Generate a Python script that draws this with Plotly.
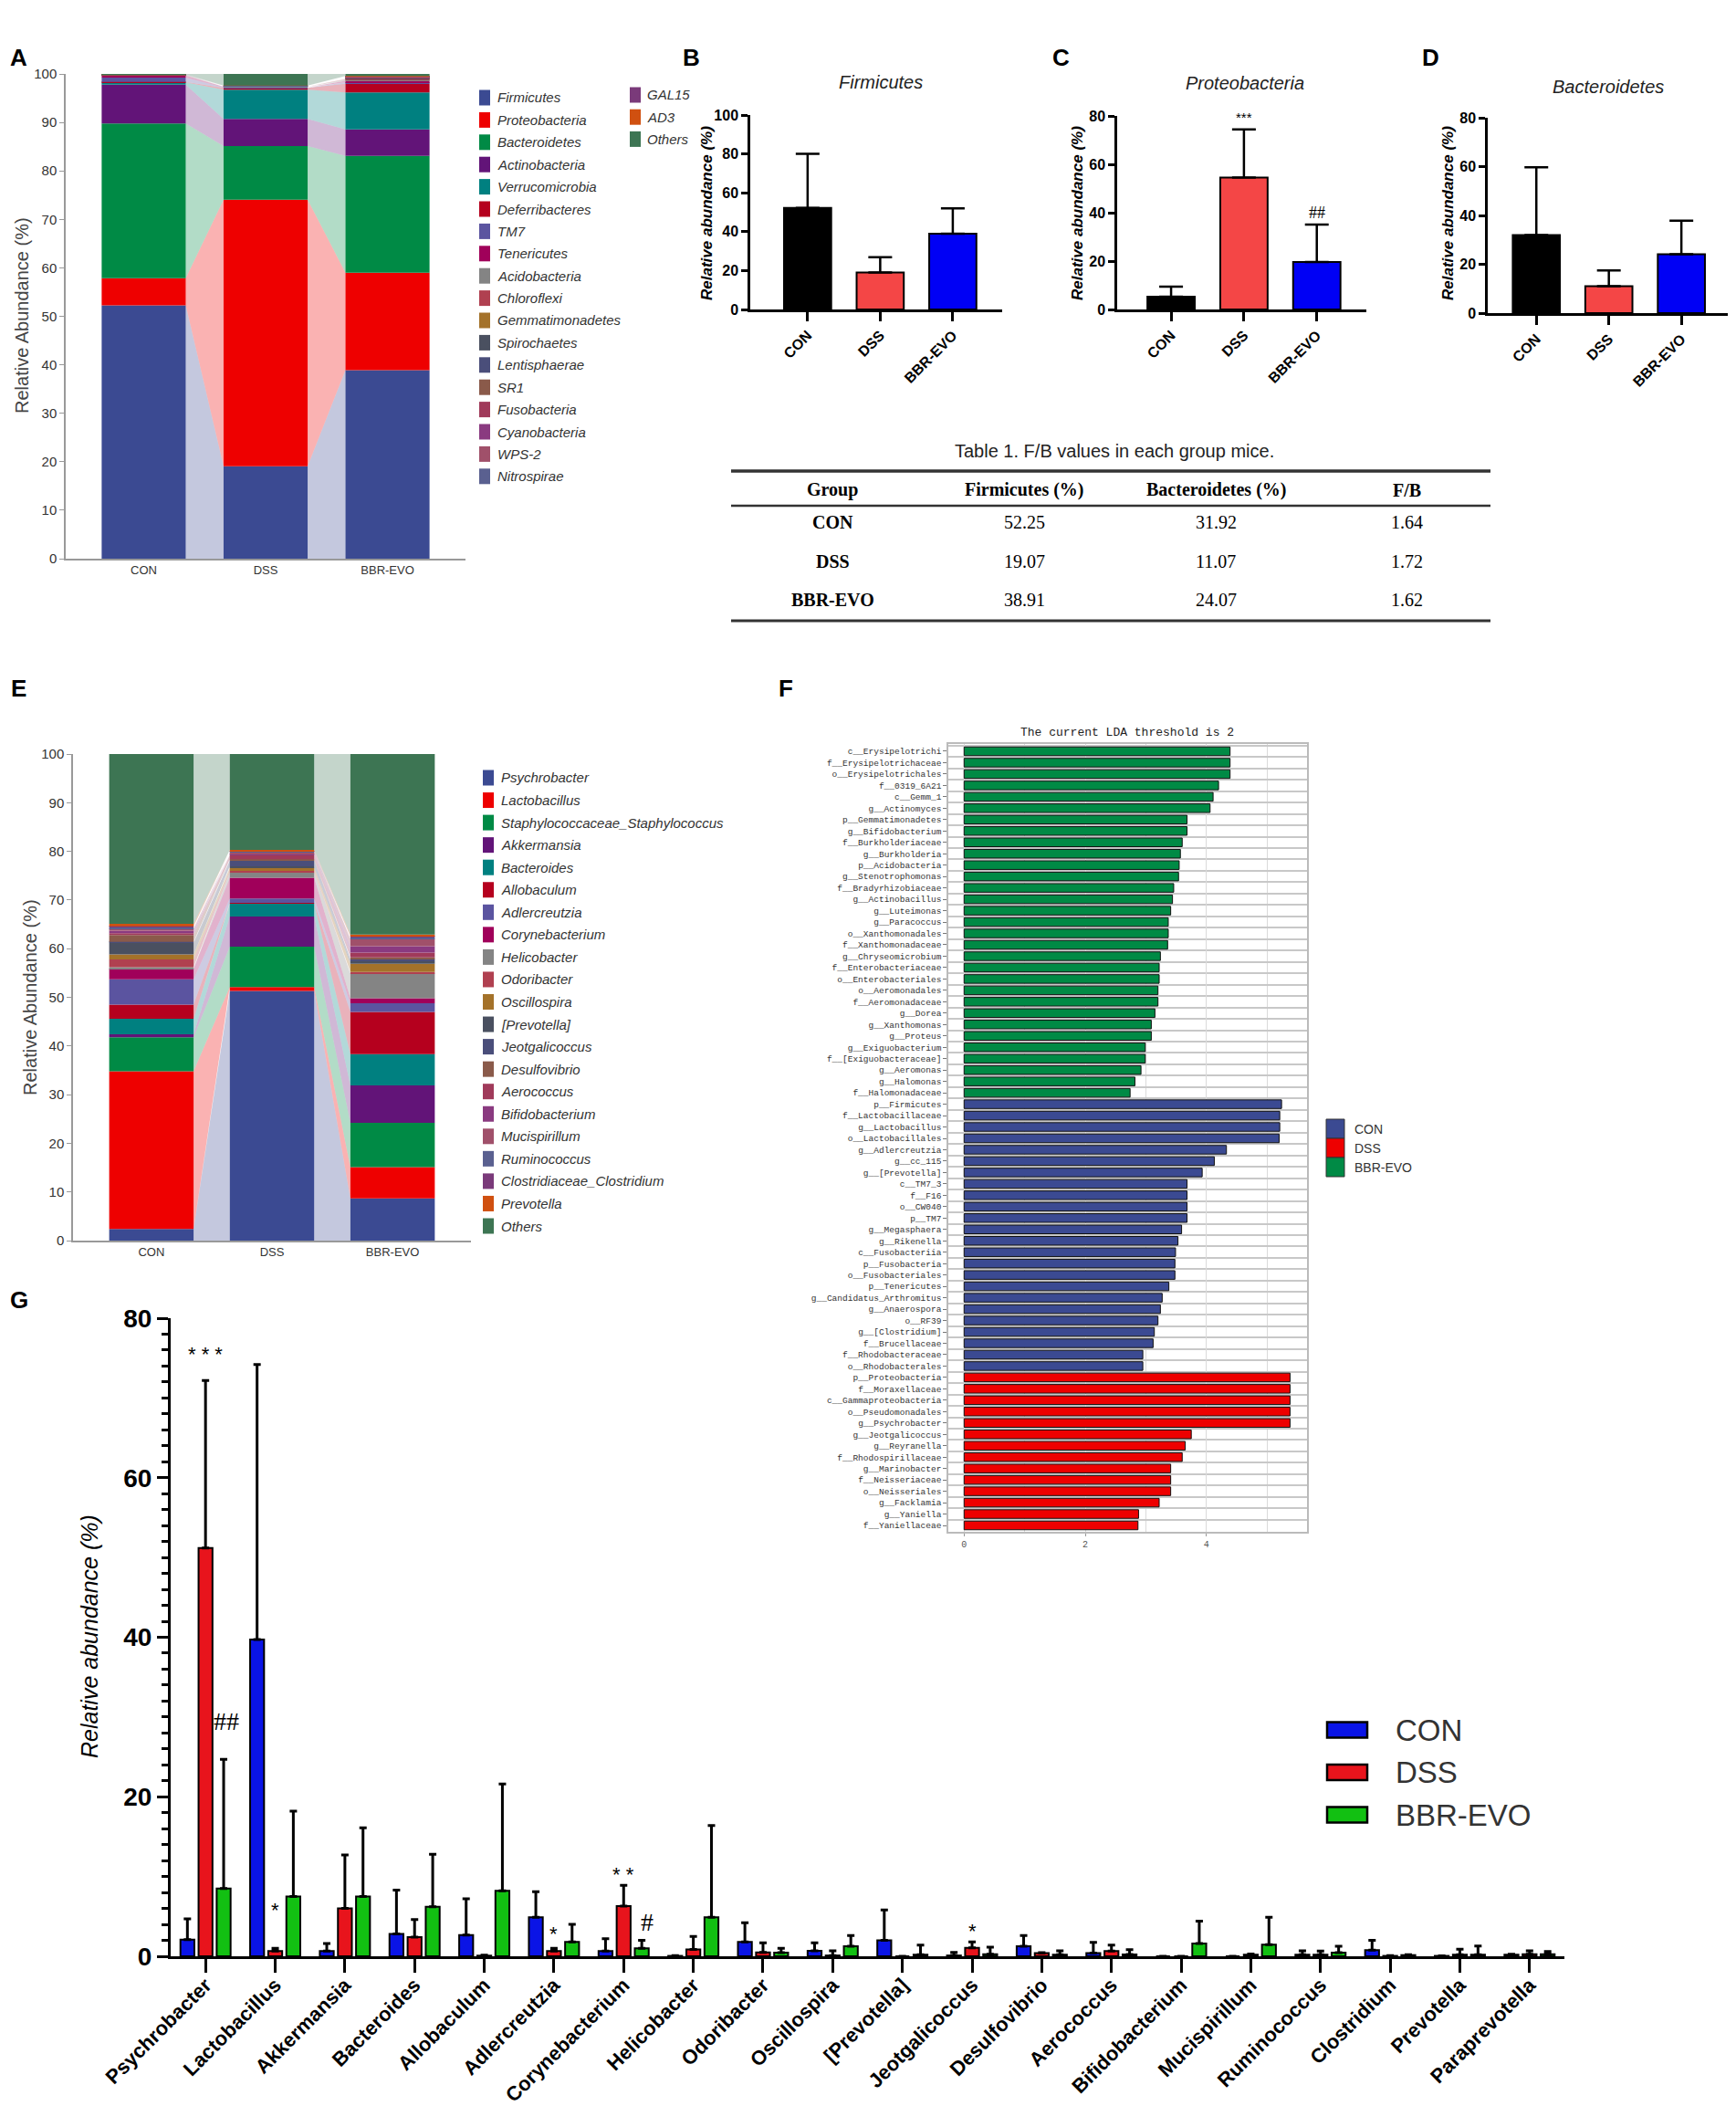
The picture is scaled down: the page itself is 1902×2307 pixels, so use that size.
import plotly.graph_objects as go

# page size in px; everything outside the data is placed in paper coords
W, H = 1902, 2307


def fx(p):
    return p / W


def fy(p):
    # pixels are counted from the top of the page
    return 1 - p / H


def rgba(hexcol, a):
    h = hexcol.lstrip('#')
    return 'rgba(%d,%d,%d,%s)' % (int(h[0:2], 16), int(h[2:4], 16), int(h[4:6], 16), a)


groups = ['CON', 'DSS', 'BBR-EVO']

# ---------------- A: phylum composition (%)
phyla = ['Firmicutes', 'Proteobacteria', 'Bacteroidetes', 'Actinobacteria', 'Verrucomicrobia',
         'Deferribacteres', 'TM7', 'Tenericutes', 'Acidobacteria', 'Chloroflexi', 'Gemmatimonadetes',
         'Spirochaetes', 'Lentisphaerae', 'SR1', 'Fusobacteria', 'Cyanobacteria', 'WPS-2',
         'Nitrospirae', 'GAL15', 'AD3', 'Others']
phyla_con = [52.25, 5.6, 31.92, 8.0, 0.5, 0.1, 0.9, 0.4, 0.05, 0.02, 0.02, 0.02, 0.02, 0.02,
             0.02, 0.03, 0.01, 0.01, 0.01, 0.01, 0.09]
phyla_dss = [19.07, 55.0, 11.07, 5.6, 6.0, 0.4, 0.1, 0.1, 0.05, 0.03, 0.02, 0.02, 0.02, 0.02,
             0.02, 0.02, 0.01, 0.01, 0.01, 0.01, 2.42]
phyla_bbr = [38.91, 20.1, 24.07, 5.5, 7.6, 1.8, 0.3, 0.3, 0.2, 0.2, 0.05, 0.1, 0.05, 0.05,
             0.1, 0.1, 0.05, 0.05, 0.02, 0.02, 0.43]

# ---------------- B-D: single phyla, mean and SD
firm_mean = [52.25, 19.07, 38.91]
firm_sd = [27.8, 7.8, 13.1]
prot_mean = [5.3, 54.5, 19.6]
prot_sd = [4.1, 19.9, 15.5]
bact_mean = [31.92, 11.07, 24.07]
bact_sd = [27.8, 6.4, 13.8]

# ---------------- table 1
tab_header = ['Group', 'Firmicutes (%)', 'Bacteroidetes (%)', 'F/B']
tab_firm = ['52.25', '19.07', '38.91']
tab_bact = ['31.92', '11.07', '24.07']
tab_fb = ['1.64', '1.72', '1.62']

# ---------------- E: genus composition (%)
genera = ['Psychrobacter', 'Lactobacillus', 'Staphylococcaceae_Staphylococcus', 'Akkermansia',
          'Bacteroides', 'Allobaculum', 'Adlercreutzia', 'Corynebacterium', 'Helicobacter',
          'Odoribacter', 'Oscillospira', '[Prevotella]', 'Jeotgalicoccus', 'Desulfovibrio',
          'Aerococcus', 'Bifidobacterium', 'Mucispirillum', 'Ruminococcus',
          'Clostridiaceae_Clostridium', 'Prevotella', 'Others']
genus_con = [2.4, 32.4, 7.0, 0.6, 3.2, 2.9, 5.2, 2.2, 0.3, 1.6, 1.0, 2.4, 0.2, 1.4, 0.4, 0.5,
             0.4, 0.3, 0.2, 0.5, 34.9]
genus_dss = [51.3, 0.8, 8.3, 6.2, 2.7, 0.1, 0.9, 4.3, 1.0, 0.4, 0.6, 0.3, 1.2, 0.3, 0.8, 0.3,
             0.3, 0.2, 0.1, 0.2, 19.7]
genus_bbr = [8.7, 6.4, 9.1, 7.7, 6.4, 8.7, 1.8, 1.0, 5.1, 0.3, 1.7, 0.5, 0.5, 0.3, 1.0, 1.3,
             1.5, 0.3, 0.2, 0.4, 37.1]

palette = ['#3b4a92', '#ee0000', '#008a45', '#621478', '#008080', '#b5001e', '#5b54a0',
           '#a0005a', '#848484', '#b04050', '#a4722a', '#4a5060', '#4a4e7a', '#8a5a4a',
           '#a03a5a', '#8a3a80', '#a0506a', '#5a6090', '#7a3a7a', '#d05010', '#3d7553']

# ---------------- F: LEfSe LDA scores
lda_bbr_names = ['c__Erysipelotrichi', 'f__Erysipelotrichaceae', 'o__Erysipelotrichales',
                 'f__0319_6A21', 'c__Gemm_1', 'g__Actinomyces', 'p__Gemmatimonadetes',
                 'g__Bifidobacterium', 'f__Burkholderiaceae', 'g__Burkholderia',
                 'p__Acidobacteria', 'g__Stenotrophomonas', 'f__Bradyrhizobiaceae',
                 'g__Actinobacillus', 'g__Luteimonas', 'g__Paracoccus', 'o__Xanthomonadales',
                 'f__Xanthomonadaceae', 'g__Chryseomicrobium', 'f__Enterobacteriaceae',
                 'o__Enterobacteriales', 'o__Aeromonadales', 'f__Aeromonadaceae', 'g__Dorea',
                 'g__Xanthomonas', 'g__Proteus', 'g__Exiguobacterium', 'f__[Exiguobacteraceae]',
                 'g__Aeromonas', 'g__Halomonas', 'f__Halomonadaceae']
lda_bbr = [4.39, 4.39, 4.39, 4.20, 4.11, 4.06, 3.68, 3.68, 3.60, 3.57, 3.55, 3.54, 3.46, 3.44,
           3.41, 3.37, 3.37, 3.36, 3.24, 3.22, 3.22, 3.20, 3.20, 3.15, 3.09, 3.09, 2.99, 2.99,
           2.92, 2.82, 2.74]
lda_con_names = ['p__Firmicutes', 'f__Lactobacillaceae', 'g__Lactobacillus', 'o__Lactobacillales',
                 'g__Adlercreutzia', 'g__cc_115', 'g__[Prevotella]', 'c__TM7_3', 'f__F16',
                 'o__CW040', 'p__TM7', 'g__Megasphaera', 'g__Rikenella', 'c__Fusobacteriia',
                 'p__Fusobacteria', 'o__Fusobacteriales', 'p__Tenericutes',
                 'g__Candidatus_Arthromitus', 'g__Anaerospora', 'o__RF39', 'g__[Clostridium]',
                 'f__Brucellaceae', 'f__Rhodobacteraceae', 'o__Rhodobacterales']
lda_con = [5.24, 5.21, 5.21, 5.20, 4.33, 4.13, 3.93, 3.68, 3.68, 3.68, 3.68, 3.59, 3.53, 3.49,
           3.48, 3.48, 3.38, 3.27, 3.24, 3.20, 3.14, 3.12, 2.95, 2.95]
lda_dss_names = ['p__Proteobacteria', 'f__Moraxellaceae', 'c__Gammaproteobacteria',
                 'o__Pseudomonadales', 'g__Psychrobacter', 'g__Jeotgalicoccus', 'g__Reyranella',
                 'f__Rhodospirillaceae', 'g__Marinobacter', 'f__Neisseriaceae', 'o__Neisseriales',
                 'g__Facklamia', 'g__Yaniella', 'f__Yaniellaceae']
lda_dss = [5.38, 5.38, 5.38, 5.38, 5.38, 3.75, 3.65, 3.60, 3.41, 3.41, 3.41, 3.22, 2.88, 2.87]

# ---------------- G: key genera, mean and SD
g_names = ['Psychrobacter', 'Lactobacillus', 'Akkermansia', 'Bacteroides', 'Allobaculum',
           'Adlercreutzia', 'Corynebacterium', 'Helicobacter', 'Odoribacter', 'Oscillospira',
           '[Prevotella]', 'Jeotgalicoccus', 'Desulfovibrio', 'Aerococcus', 'Bifidobacterium',
           'Mucispirillum', 'Ruminococcus', 'Clostridium', 'Prevotella', 'Paraprevotella']
g_con = [2.1, 39.7, 0.65, 2.8, 2.65, 4.9, 0.65, 0.05, 1.8, 0.7, 2.0, 0.1, 1.26, 0.4, 0.0, 0.0,
         0.2, 0.76, 0.05, 0.2]
g_con_sd = [2.6, 34.5, 0.95, 5.5, 4.55, 3.2, 1.55, 0.05, 2.4, 1.0, 3.8, 0.4, 1.34, 1.35, 0.0,
            0.0, 0.5, 1.24, 0.0, 0.05]
g_dss = [51.2, 0.65, 6.0, 2.4, 0.08, 0.65, 6.3, 0.85, 0.5, 0.1, 0.0, 1.07, 0.4, 0.65, 0.0, 0.2,
         0.2, 0.05, 0.2, 0.25]
g_dss_sd = [21.0, 0.35, 6.7, 2.2, 0.05, 0.35, 2.6, 1.65, 1.2, 0.6, 0.0, 0.73, 0.05, 0.75, 0.0,
            0.1, 0.45, 0.05, 0.7, 0.45]
g_bbr = [8.5, 7.5, 7.5, 6.2, 8.2, 1.8, 1.0, 4.9, 0.45, 1.26, 0.2, 0.27, 0.2, 0.23, 1.6, 1.45,
         0.45, 0.15, 0.2, 0.25]
g_bbr_sd = [16.2, 10.7, 8.6, 6.6, 13.4, 2.2, 1.0, 11.5, 0.55, 1.34, 1.2, 0.88, 0.5, 0.6, 2.8,
            3.45, 0.8, 0.05, 1.1, 0.35]

SANS = 'Liberation Sans, Arial, sans-serif'
SERIF = 'Liberation Serif, Times New Roman, serif'
MONO = 'Liberation Mono, Courier New, monospace'

fig = go.Figure()


def add_stacked(names, cols, colors, xa, ya, barw):
    # stacked columns plus translucent bands joining the same taxon between columns
    cum = [0.0, 0.0, 0.0]
    for k, name in enumerate(names):
        vals = [c[k] for c in cols]
        bot = cum[:]
        top = [bot[g] + vals[g] for g in range(3)]
        fig.add_trace(go.Bar(x=[0, 1, 2], y=vals, base=bot, width=barw, name=name,
                             marker=dict(color=colors[k], line=dict(width=0)),
                             xaxis=xa, yaxis=ya, showlegend=False, hoverinfo='skip'))
        for g in range(2):
            x0 = g + barw / 2
            x1 = g + 1 - barw / 2
            fig.add_trace(go.Scatter(x=[x0, x1, x1, x0, x0],
                                     y=[bot[g], bot[g + 1], top[g + 1], top[g], bot[g]],
                                     mode='lines', fill='toself', fillcolor=rgba(colors[k], 0.3),
                                     line=dict(width=0), xaxis=xa, yaxis=ya,
                                     showlegend=False, hoverinfo='skip'))
        cum = top


def add_legend(names, colors, x_sw, x_txt, y0, step, sw_w, sw_h, size, italic=True, border=None):
    for i, (n, c) in enumerate(zip(names, colors)):
        yc = y0 + i * step
        fig.add_shape(type='rect', xref='paper', yref='paper',
                      x0=fx(x_sw), x1=fx(x_sw + sw_w), y0=fy(yc + sw_h / 2), y1=fy(yc - sw_h / 2),
                      fillcolor=c, line=dict(width=border[1] if border else 0,
                                             color=border[0] if border else c))
        fig.add_annotation(x=fx(x_txt), y=fy(yc), xref='paper', yref='paper',
                           text=('<i>%s</i>' % n) if italic else n, showarrow=False,
                           xanchor='left', yanchor='middle',
                           font=dict(family=SANS, size=size, color='#333'))


def label(text, x, y, size=26, angle=0, family=SANS, color='black', anchor='center'):
    fig.add_annotation(x=fx(x), y=fy(y), xref='paper', yref='paper', text=text, showarrow=False,
                       xanchor=anchor, yanchor='middle', textangle=angle,
                       font=dict(family=family, size=size, color=color))


# ---------- A
add_stacked(phyla, [phyla_con, phyla_dss, phyla_bbr], palette, 'x', 'y', 0.69)
add_legend(phyla[:18], palette[:18], 525, 543, 107, 24.4, 12, 17, 15)
add_legend(phyla[18:], palette[18:], 690, 707, 104, 24.2, 12, 17, 15)
label('Relative Abundance (%)', 24, 346, size=20, angle=-90, color='#444')

# ---------- E
add_stacked(genera, [genus_con, genus_dss, genus_bbr], palette, 'x5', 'y5', 0.70)
add_legend(genera, palette, 529, 547, 852, 24.55, 12, 17, 15)
label('Relative Abundance (%)', 33, 1093, size=20, angle=-90, color='#444')

# ---------- B, C, D
small_colors = ['#000000', '#f44646', '#0000f5']
for vals, sds, xa, ya in [(firm_mean, firm_sd, 'x2', 'y2'), (prot_mean, prot_sd, 'x3', 'y3'),
                          (bact_mean, bact_sd, 'x4', 'y4')]:
    fig.add_trace(go.Bar(x=[0, 1, 2], y=vals, width=0.65,
                         marker=dict(color=small_colors, line=dict(color='black', width=2)),
                         error_y=dict(type='data', array=sds, arrayminus=[0, 0, 0], symmetric=False,
                                      color='black', thickness=2.5, width=13),
                         xaxis=xa, yaxis=ya, showlegend=False))

label('<i>Firmicutes</i>', 965, 90, size=20, color='#222')
label('<i>Proteobacteria</i>', 1364, 91, size=20, color='#222')
label('<i>Bacteroidetes</i>', 1762, 95, size=20, color='#222')
for xt in [774, 1180, 1586]:
    label('<b><i>Relative abundance (%)</i></b>', xt, 234, size=17, angle=-90)

fig.add_annotation(x=1, y=prot_mean[1] + prot_sd[1] + 5, xref='x3', yref='y3', text='***',
                   showarrow=False, font=dict(family=SANS, size=15))
fig.add_annotation(x=2, y=prot_mean[2] + prot_sd[2] + 5, xref='x3', yref='y3', text='##',
                   showarrow=False, font=dict(family=SERIF, size=18))

# ---------- Table 1
label('Table 1. F/B values in each group mice.', 1221, 494, size=20, color='#222')
tab_x = [912, 1122, 1332, 1541]
tab_y = [572, 615, 657]
for j, t in enumerate(tab_header):
    label('<b>%s</b>' % t, tab_x[j], 537, size=20, family=SERIF)
for i in range(3):
    label('<b>%s</b>' % groups[i], tab_x[0], tab_y[i], size=20, family=SERIF)
    label(tab_firm[i], tab_x[1], tab_y[i], size=20, family=SERIF)
    label(tab_bact[i], tab_x[2], tab_y[i], size=20, family=SERIF)
    label(tab_fb[i], tab_x[3], tab_y[i], size=20, family=SERIF)
for yl, lw in [(516, 3.5), (554, 2.5), (680, 3)]:
    fig.add_shape(type='line', xref='paper', yref='paper', x0=fx(801), x1=fx(1633),
                  y0=fy(yl), y1=fy(yl), line=dict(color='#333', width=lw))

# ---------- F
lda_names = lda_bbr_names + lda_con_names + lda_dss_names
lda_vals = lda_bbr + lda_con + lda_dss
lda_cols = (['#008a45'] * len(lda_bbr) + ['#3b4a92'] * len(lda_con) + ['#ee0000'] * len(lda_dss))
fig.add_trace(go.Bar(x=lda_vals, y=list(range(len(lda_vals))), orientation='h', width=0.76,
                     marker=dict(color=lda_cols, line=dict(color='#111', width=1)),
                     xaxis='x6', yaxis='y6', showlegend=False))
label('The current LDA threshold is 2', 1235, 802, size=13, family=MONO, color='#222')
add_legend(['CON', 'DSS', 'BBR-EVO'], ['#3b4a92', '#ee0000', '#008a45'], 1453, 1482, 1236.5,
           21, 20, 21, 14, italic=False, border=('#333', 1))

# ---------- G
for vals, sds, col, off in [(g_con, g_con_sd, '#0a14e6', -0.36), (g_dss, g_dss_sd, '#e8141c', -0.1),
                            (g_bbr, g_bbr_sd, '#12c012', 0.16)]:
    fig.add_trace(go.Bar(x=g_names, y=vals, width=0.2, offset=off,
                         marker=dict(color=col, line=dict(color='black', width=2)),
                         error_y=dict(type='data', array=sds, arrayminus=[0] * len(vals),
                                      symmetric=False, color='black', thickness=3, width=4),
                         xaxis='x7', yaxis='y7', showlegend=False))
label('<i>Relative abundance (%)</i>', 98, 1793, size=25, angle=-90)
add_legend(['CON', 'DSS', 'BBR-EVO'], ['#0a14e6', '#e8141c', '#12c012'], 1454, 1527, 1895,
           46.5, 44, 17, 33, italic=False, border=('black', 2.5))

g_marks = [(0, 75.5, '* * *', SANS, 22), (0.3, 29.5, '##', SERIF, 28), (1, 5.8, '*', SANS, 22),
           (5, 2.8, '*', SANS, 22), (6, 10.3, '* *', SANS, 22), (6.34, 4.3, '#', SERIF, 28),
           (11, 3.2, '*', SANS, 22)]
for xm, ym, tx, fam, sz in g_marks:
    fig.add_annotation(x=xm, y=ym, xref='x7', yref='y7', text=tx, showarrow=False,
                       font=dict(family=fam, size=sz, color='black'))

# ---------- panel letters
for t, x, y in [('A', 20, 63), ('B', 757, 63), ('C', 1162, 63), ('D', 1567, 63),
                ('E', 20, 754), ('F', 861, 754), ('G', 21, 1424)]:
    label('<b>%s</b>' % t, x, y, size=26)

# ---------- axes
comp_x = dict(tickvals=[0, 1, 2], ticktext=groups, showline=True, linecolor='#999', linewidth=1.5,
              ticks='', showgrid=False, zeroline=False, automargin=False,
              tickfont=dict(size=13, color='#333'))
comp_y = dict(range=[0, 100], dtick=10, showline=True, linecolor='#999', linewidth=1.5,
              ticks='outside', ticklen=5, tickcolor='#999', showgrid=False, zeroline=False,
              automargin=False, tickfont=dict(size=15, color='#333'))

small_x = dict(tickvals=[0, 1, 2], ticktext=['<b>%s</b>' % g for g in groups], tickangle=-45,
               ticks='outside', ticklen=10, tickwidth=2.5, tickcolor='black', showline=True,
               linecolor='black', linewidth=2.5, showgrid=False, zeroline=False, automargin=False,
               tickfont=dict(size=16, color='black'))
small_y = dict(dtick=20, ticks='outside', ticklen=7, tickwidth=2.5, tickcolor='black',
               showline=True, linecolor='black', linewidth=2.5, showgrid=False, zeroline=False,
               automargin=False, tickfont=dict(size=16, color='black', weight='bold'))

fig.update_layout(
    width=W, height=H, autosize=False, margin=dict(l=0, r=0, t=0, b=0, pad=0),
    plot_bgcolor='rgba(0,0,0,0)', paper_bgcolor='white', barmode='overlay', showlegend=False,
    font=dict(family=SANS, color='black'),
    xaxis=dict(comp_x, domain=[fx(72), fx(510)], range=[-0.64, 2.64], anchor='y'),
    yaxis=dict(comp_y, domain=[fy(612), fy(81)], anchor='x'),
    xaxis2=dict(small_x, domain=[fx(822), fx(1098)], range=[-0.79, 2.68], anchor='y2'),
    yaxis2=dict(small_y, domain=[fy(339), fy(126)], range=[0, 100], anchor='x2'),
    xaxis3=dict(small_x, domain=[fx(1224), fx(1497)], range=[-0.74, 2.68], anchor='y3'),
    yaxis3=dict(small_y, domain=[fy(339), fy(127)], range=[0, 80], anchor='x3'),
    xaxis4=dict(small_x, domain=[fx(1630), fx(1893)], range=[-0.67, 2.64], anchor='y4'),
    yaxis4=dict(small_y, domain=[fy(343), fy(129)], range=[0, 80], anchor='x4'),
    xaxis5=dict(comp_x, domain=[fx(80), fx(516)], range=[-0.65, 2.65], anchor='y5'),
    yaxis5=dict(comp_y, domain=[fy(1359), fy(826)], anchor='x5'),
    xaxis6=dict(domain=[fx(1039), fx(1432)], range=[-0.26, 5.66], tickvals=[0, 2, 4],
                ticks='outside', ticklen=3, tickcolor='#999', showgrid=True, gridcolor='#dadada',
                minor=dict(dtick=1, showgrid=True, gridcolor='#dadada'),
                showline=True, mirror=True, linecolor='#bbb', linewidth=1.5, zeroline=False,
                automargin=False, tickfont=dict(family=MONO, size=10, color='#555'), anchor='y6'),
    yaxis6=dict(domain=[fy(1678), fy(815)], range=[len(lda_vals) - 0.44, -0.64],
                tickmode='array', tickvals=list(range(len(lda_vals))), ticktext=lda_names,
                ticks='outside', ticklen=4, tickcolor='#777', showgrid=False,
                minor=dict(tickmode='linear', tick0=0.5, dtick=1, showgrid=True,
                           gridcolor='#c8c8c8', gridwidth=1.5, ticks=''),
                showline=True, mirror=True, linecolor='#bbb', linewidth=1.5, zeroline=False,
                automargin=False, tickfont=dict(family=MONO, size=9.5, color='#333'), anchor='x6'),
    xaxis7=dict(domain=[fx(187), fx(1714)], type='category', categoryorder='array',
                categoryarray=g_names, range=[-0.5, len(g_names) - 0.5], tickangle=-45,
                ticks='outside', ticklen=15, tickwidth=3, tickcolor='black', showline=True,
                linecolor='black', linewidth=3, showgrid=False, zeroline=False, automargin=False,
                ticklabelstandoff=-8,
                tickfont=dict(size=22, color='black', weight='bold'), anchor='y7'),
    yaxis7=dict(domain=[fy(2143), fy(1444)], range=[0, 80], tick0=0, dtick=20,
                ticks='outside', ticklen=12, tickwidth=3, tickcolor='black',
                minor=dict(dtick=2, ticks='outside', ticklen=7, tickwidth=3, tickcolor='black'),
                showline=True, linecolor='black', linewidth=3, showgrid=False, zeroline=False,
                automargin=False, tickfont=dict(size=28, color='black', weight='bold'), anchor='x7'),
)

fig.write_html("out.html", config={'displayModeBar': False},
               post_script="document.body.style.margin='0';")
